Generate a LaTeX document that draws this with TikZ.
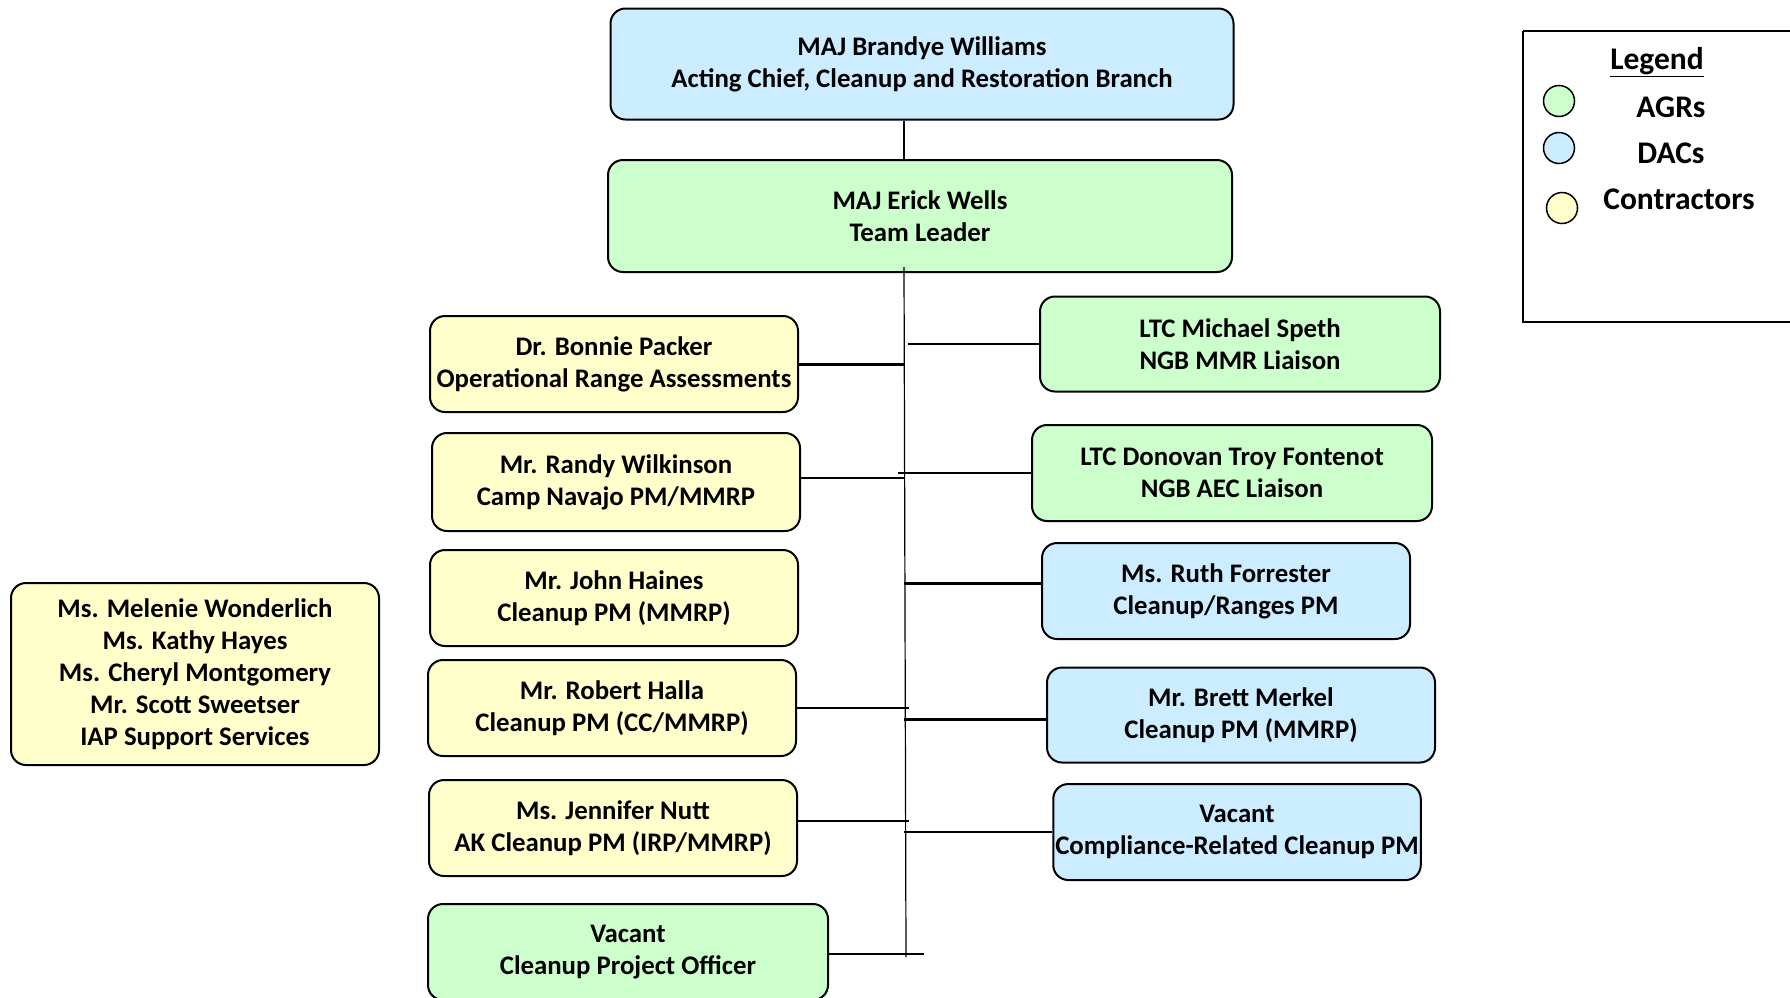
\documentclass[tikz,border=0pt]{standalone}
\usepackage{fontspec}
\setmainfont{Carlito}
\usepackage{xcolor}
\usetikzlibrary{positioning,calc}
\definecolor{agrgreen}{RGB}{204,255,204}
\definecolor{dacblue}{RGB}{204,236,255}
\definecolor{contryellow}{RGB}{255,255,204}

\begin{document}
\begin{tikzpicture}[
    x=1pt, y=-1pt,
    every node/.style={font=\fontsize{26.8}{32}\selectfont\bfseries, align=center},
    post/.style={draw, line width=2pt, rounded corners=15pt, minimum width=368pt, minimum height=96pt, inner sep=2pt},
    agr/.style={post, fill=agrgreen},
    dac/.style={post, fill=dacblue},
    contractor/.style={post, fill=contryellow},
    dot/.style={circle, draw, line width=1.5pt, minimum size=31pt, inner sep=0pt},
    keytext/.style={font=\fontsize{31.5}{36}\selectfont\bfseries},
    link/.style={line width=1.5pt},
    boldlink/.style={line width=3pt}
]
    \useasboundingbox (0,0) rectangle (1790,997);

    % leadership
    \node[dac, minimum width=623pt, minimum height=111pt] (chief) at (922,64) {MAJ Brandye Williams\\Acting Chief, Cleanup and Restoration Branch};
    \node[agr, minimum width=624pt, minimum height=112pt] (wells) at (920,216) {MAJ Erick Wells\\Team Leader};

    % left column
    \node[contractor] (packer) at (614,364) {Dr. Bonnie Packer\\Operational Range Assessments};
    \node[contractor, minimum height=98pt] (wilkinson) at (616,482) {Mr. Randy Wilkinson\\Camp Navajo PM/MMRP};
    \node[contractor] (haines) at (614,598) {Mr. John Haines\\Cleanup PM (MMRP)};
    \node[contractor] (halla) at (612,708) {Mr. Robert Halla\\Cleanup PM (CC/MMRP)};
    \node[contractor] (nutt) at (613,828) {Ms. Jennifer Nutt\\AK Cleanup PM (IRP/MMRP)};
    \node[agr, minimum width=400pt] (cpo) at (628,952) {Vacant\\Cleanup Project Officer};
    \node[contractor, minimum height=182pt] (iap) at (195,674) {Ms. Melenie Wonderlich\\Ms. Kathy Hayes\\Ms. Cheryl Montgomery\\Mr. Scott Sweetser\\IAP Support Services};

    % right column
    \node[agr, minimum width=400pt, minimum height=95pt] (speth) at (1240,344) {LTC Michael Speth\\NGB MMR Liaison};
    \node[agr, minimum width=400pt] (fontenot) at (1232,473) {LTC Donovan Troy Fontenot\\NGB AEC Liaison};
    \node[dac] (forrester) at (1226,591) {Ms. Ruth Forrester\\Cleanup/Ranges PM};
    \node[dac, minimum width=388pt, minimum height=95pt] (merkel) at (1241,715) {Mr. Brett Merkel\\Cleanup PM (MMRP)};
    \node[dac, minimum width=367pt] (crc) at (1237,832) {Vacant\\Compliance-Related Cleanup PM};

    % trunk
    \coordinate (trunktop) at (904,267);
    \coordinate (trunkbot) at (906,957);
    \draw[link, line width=2.5pt] (chief.south -| trunktop) -- (wells.north -| trunktop);
    \draw[link, line width=1.2pt] (trunktop) -- (trunkbot);

    % branches
    \draw[boldlink] (packer.east) -- (packer.east -| trunktop);
    \draw[link] ([yshift=4pt]wilkinson.east) coordinate (wi) -- (wi -| trunktop);
    \draw[link] (halla.east) -- ($(halla.east -| trunktop)+(5,0)$);
    \draw[link, line width=2pt] ([yshift=7pt]nutt.east) coordinate (nu) -- ($(nu -| trunktop)+(5,0)$);
    \draw[link, line width=2pt] ([yshift=-2pt]cpo.east) coordinate (cp) -- ($(cp -| trunkbot)+(18,0)$);
    \draw[link] (speth.west) -- ($(speth.west -| trunktop)+(4,0)$);
    \draw[link] (fontenot.west) -- ($(fontenot.west -| trunktop)+(-6,0)$);
    \draw[boldlink] ([yshift=8pt]forrester.west) coordinate (fo) -- (fo -| trunktop);
    \draw[boldlink] ([yshift=-4pt]merkel.west) coordinate (me) -- (me -| trunktop);
    \draw[link, line width=2pt] (crc.west) -- (crc.west -| trunktop);

    % legend
    \draw[line width=2pt] (1523,31) -- (1523,322) -- (1800,322);
    \draw[line width=2pt] (1523,31) -- (1800,31);
    \node[keytext] (legendtitle) at (1657,62) {\underline{Legend}};
    \node[dot, fill=agrgreen] (agrdot) at (1559,101) {};
    \node[dot, fill=dacblue] (dacdot) at (1559,148) {};
    \node[dot, fill=contryellow] (contrdot) at (1562,208) {};
    \node[keytext] (agrlabel) at (1671,107) {AGRs};
    \node[keytext] (daclabel) at (1671,153) {DACs};
    \node[keytext] (contrlabel) at (1679,199) {Contractors};
\end{tikzpicture}
\end{document}
